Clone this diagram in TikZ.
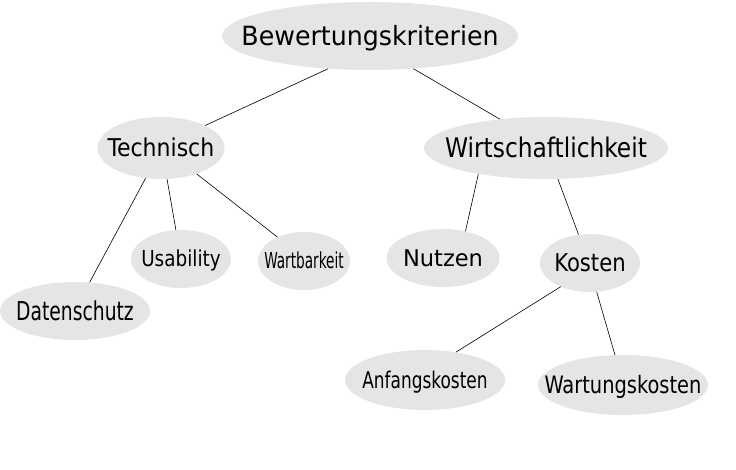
\documentclass[tikz,border=0pt]{standalone}
\usepackage{fontspec}
\setmainfont{DejaVu Sans Condensed}
\newfontfamily\widefont{DejaVu Sans}
\usepackage{tikz}
\usetikzlibrary{shapes, positioning, calc}
\tikzset{
    crit/.style={
        ellipse, fill=black!10, inner sep=0pt,
        text centered
    },
    edge/.style={draw, line width=0.6pt}
}
% Text ohne Einfluss auf die Ellipsengroesse: #1 Groesse, #2 Breitenfaktor, #3 Text
\newcommand{\lbl}[3]{\fontsize{#1}{#1}\selectfont\raisebox{-0.36em}[0pt][0pt]{\makebox[0pt]{\scalebox{#2}[1]{#3}}}}

\begin{document}
\begin{tikzpicture}[x=1pt, y=-1pt]
        \useasboundingbox (0,0) rectangle (736,470);
        % Knoten
        \node (bew) [crit, minimum width=296, minimum height=68] at (370,36) {\lbl{26.5}{1.06}{Bewertungskriterien}};
        \node (tech) [crit, minimum width=127, minimum height=62] at (161,148) {\lbl{24.5}{1}{Technisch}};
        \node (wirt) [crit, minimum width=244, minimum height=62] at (546,148) {\lbl{27}{0.96}{Wirtschaftlichkeit}};
        \node (daten) [crit, minimum width=150, minimum height=58] at (75,311) {\lbl{26}{0.8}{Datenschutz}};
        \node (usab) [crit, minimum width=100, minimum height=58] at (181,259) {\lbl{22}{0.93}{Usability}};
        \node (wart) [crit, minimum width=92, minimum height=58] at (304,261) {\lbl{22}{0.69}{Wartbarkeit}};
        \node (nutzen) [crit, minimum width=113, minimum height=58] at (443,258) {\lbl{23}{0.98}{\widefont Nutzen}};
        \node (kosten) [crit, minimum width=100, minimum height=58] at (590,263) {\lbl{24.5}{0.96}{Kosten}};
        \node (anf) [crit, minimum width=160, minimum height=60] at (425,380) {\lbl{23}{0.82}{Anfangskosten}};
        \node (wkost) [crit, minimum width=170, minimum height=60] at (623,385) {\lbl{24}{0.9}{Wartungskosten}};

        % Kanten
        \draw [edge] (bew.218) -- (tech.27);
        \draw [edge] (bew.323) -- (wirt.148);
        \draw [edge] (tech.243) -- (daten.63);
        \draw [edge] (tech.281) -- (usab.100);
        \draw [edge] (tech.324) -- (wart.138);
        \draw [edge] (wirt.201) -- (nutzen.50);
        \draw [edge] (wirt.291) -- (kosten.112);
        \draw [edge] (kosten.219) -- (anf.42);
        \draw [edge] (kosten.283) -- (wkost.105);
    \end{tikzpicture}
\end{document}
